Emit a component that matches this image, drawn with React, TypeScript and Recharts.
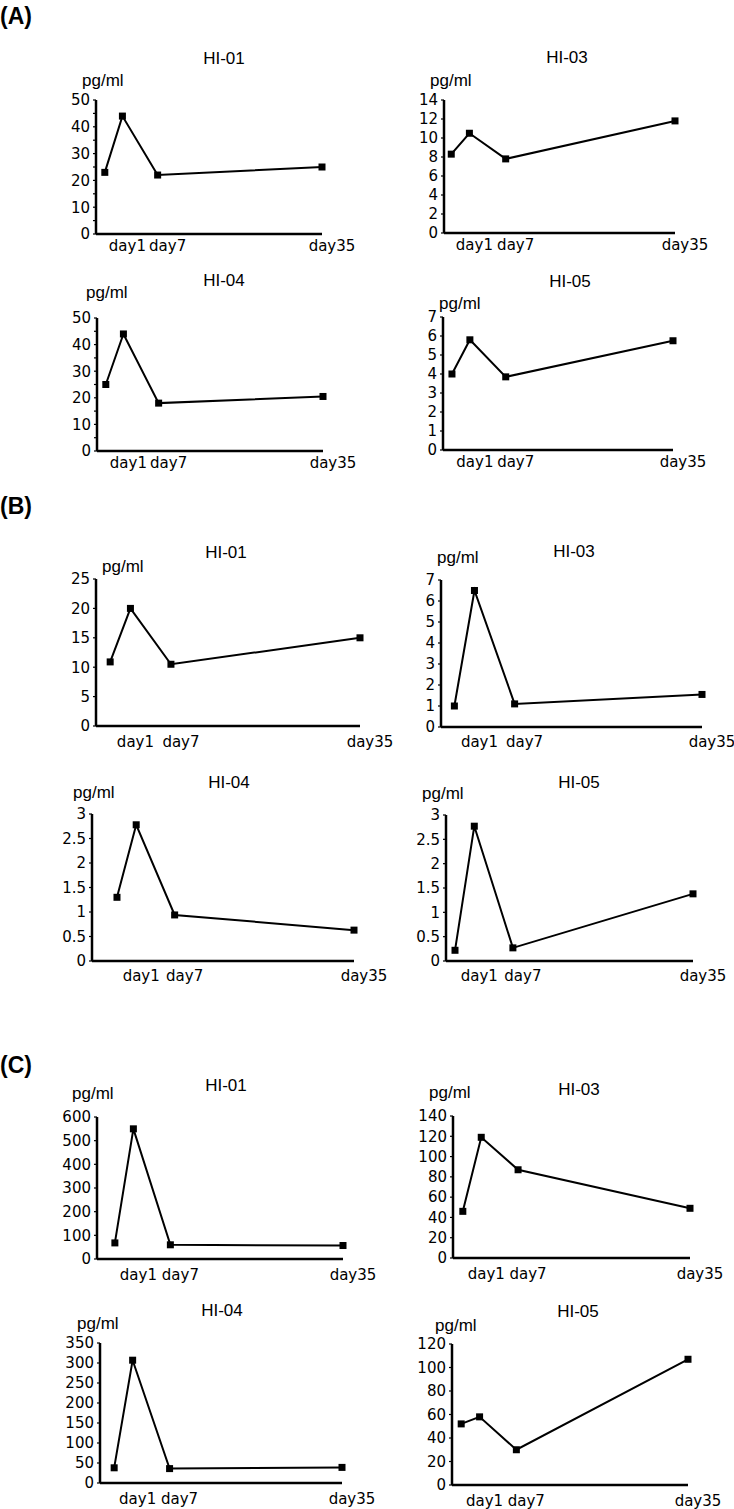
import React from 'react';
import { LineChart, Line, XAxis, YAxis } from 'recharts';

// sampling days (the unlabeled first point is the pre-dose sample)
const days = [-2, 1, 7, 35];
const dayTicks = [1, 7, 35];
const dayLabels = ['day1', 'day7', 'day35'];

// (A)
const a01 = [23, 44, 22, 25];
const a03 = [8.3, 10.5, 7.8, 11.8];
const a04 = [25, 44, 18, 20.5];
const a05 = [4.0, 5.8, 3.85, 5.75];
// (B)
const b01 = [10.9, 20, 10.5, 15];
const b03 = [1.0, 6.5, 1.1, 1.55];
const b04 = [1.3, 2.78, 0.94, 0.63];
const b05 = [0.22, 2.77, 0.27, 1.38];
// (C)
const c01 = [68, 550, 60, 57];
const c03 = [46, 119, 87, 49];
const c04 = [38, 307, 36, 39];
const c05 = [52, 58, 30, 107];

// y ticks
const ticks0to50by5 = [0, 5, 10, 15, 20, 25, 30, 35, 40, 45, 50];
const ticks0to14 = [0, 2, 4, 6, 8, 10, 12, 14];
const ticks0to7 = [0, 1, 2, 3, 4, 5, 6, 7];
const ticks0to25 = [0, 5, 10, 15, 20, 25];
const ticks0to3 = [0, 0.5, 1, 1.5, 2, 2.5, 3];
const ticks0to600 = [0, 100, 200, 300, 400, 500, 600];
const ticks0to140 = [0, 20, 40, 60, 80, 100, 120, 140];
const ticks0to350 = [0, 50, 100, 150, 200, 250, 300, 350];
const ticks0to120 = [0, 20, 40, 60, 80, 100, 120];

const sections = [
  { label: '(A)', y: 16 },
  { label: '(B)', y: 506 },
  { label: '(C)', y: 1065 },
];

// layout: plot box [x0, x1, y0, y1], title centre, unit label anchor
const panels = [
  { title: 'HI-01', vals: a01, ticks: ticks0to50by5, labelStep: 10, xMin: -3.5, box: [96, 322, 100, 234], tc: [224, 58], uc: [82, 80], gap: 17 },
  { title: 'HI-03', vals: a03, ticks: ticks0to14, labelStep: 0, xMin: -3.2, box: [444, 675, 100, 233], tc: [567, 57], uc: [430, 80], gap: 17 },
  { title: 'HI-04', vals: a04, ticks: ticks0to50by5, labelStep: 10, xMin: -3.5, box: [97, 323, 318, 451], tc: [224, 280], uc: [86, 292], gap: 17 },
  { title: 'HI-05', vals: a05, ticks: ticks0to7, labelStep: 0, xMin: -3.5, box: [443, 673, 317, 450], tc: [570, 281], uc: [439, 303], gap: 17 },
  { title: 'HI-01', vals: b01, ticks: ticks0to25, labelStep: 0, xMin: -4.1, box: [96, 360, 579, 726], tc: [226, 552], uc: [102, 566], gap: 21 },
  { title: 'HI-03', vals: b03, ticks: ticks0to7, labelStep: 0, xMin: -4, box: [441, 702, 580, 727], tc: [574, 551], uc: [437, 557], gap: 20 },
  { title: 'HI-04', vals: b04, ticks: ticks0to3, labelStep: 0, xMin: -5.9, box: [92, 354, 814, 961], tc: [229, 782], uc: [73, 792], gap: 20 },
  { title: 'HI-05', vals: b05, ticks: ticks0to3, labelStep: 0, xMin: -3.4, box: [446, 693, 815, 961], tc: [579, 782], uc: [422, 793], gap: 20 },
  { title: 'HI-01', vals: c01, ticks: ticks0to600, labelStep: 0, xMin: -4.9, box: [97, 343, 1117, 1259], tc: [226, 1085], uc: [72, 1093], gap: 21 },
  { title: 'HI-03', vals: c03, ticks: ticks0to140, labelStep: 0, xMin: -3.6, box: [453, 690, 1116, 1258], tc: [579, 1089], uc: [429, 1092], gap: 21 },
  { title: 'HI-04', vals: c04, ticks: ticks0to350, labelStep: 0, xMin: -4.3, box: [100, 342, 1343, 1483], tc: [222, 1310], uc: [77, 1323], gap: 21 },
  { title: 'HI-05', vals: c05, ticks: ticks0to120, labelStep: 0, xMin: -3.5, box: [452, 688, 1344, 1485], tc: [578, 1311], uc: [435, 1325], gap: 21 },
];

const labelShift = [5, 10, 10];
const numFont = '"DejaVu Sans", sans-serif';
const textFont = '"Liberation Sans", Arial, sans-serif';

const Square = (props: any) => {
  const { cx, cy } = props;
  if (cx == null || cy == null) return null;
  return <rect x={cx - 3.5} y={cy - 3.5} width={7} height={7} fill="#000" />;
};

const YW = 50;
const MT = 10;
const MR = 44;
const XH = 30;

function Panel({ p }: { p: (typeof panels)[number] }) {
  const [x0, x1, y0, y1] = p.box;
  const plotW = x1 - x0;
  const plotH = y1 - y0;
  const data = days.map((d, i) => ({ day: d, v: p.vals[i] }));
  const top = p.ticks[p.ticks.length - 1];

  const XTick = (props: any) => {
    const { x, y, payload } = props;
    const idx = dayTicks.indexOf(payload.value);
    return (
      <text
        x={x + labelShift[idx]}
        y={y + p.gap}
        textAnchor="middle"
        fill="#000"
        fontSize={15}
        fontFamily={numFont}
      >
        {dayLabels[idx]}
      </text>
    );
  };

  return (
    <>
      <div
        style={{
          position: 'absolute',
          left: p.tc[0],
          top: p.tc[1],
          transform: 'translate(-50%, -50%)',
          fontFamily: textFont,
          fontSize: 17,
          lineHeight: 1,
          whiteSpace: 'nowrap',
        }}
      >
        {p.title}
      </div>
      <div
        style={{
          position: 'absolute',
          left: p.uc[0],
          top: p.uc[1],
          transform: 'translateY(-50%)',
          fontFamily: textFont,
          fontSize: 17,
          lineHeight: 1,
          whiteSpace: 'nowrap',
        }}
      >
        pg/ml
      </div>
      <div style={{ position: 'absolute', left: x0 - YW, top: y0 - MT }}>
        <LineChart
          width={YW + plotW + MR}
          height={MT + plotH + XH}
          data={data}
          margin={{ top: MT, right: MR, left: 0, bottom: 0 }}
          style={{ overflow: 'visible' }}
        >
          <XAxis
            dataKey="day"
            type="number"
            domain={[p.xMin, 35]}
            ticks={dayTicks}
            interval={0}
            height={XH}
            tickLine={false}
            tickSize={0}
            tickMargin={0}
            axisLine={{ stroke: '#000', strokeWidth: 2.5 }}
            tick={<XTick />}
          />
          <YAxis
            type="number"
            domain={[0, top]}
            ticks={p.ticks}
            interval={0}
            width={YW}
            tickSize={3}
            tickMargin={3}
            tickLine={{ stroke: '#000', strokeWidth: 1.2 }}
            axisLine={{ stroke: '#000', strokeWidth: 2.5 }}
            tick={{ fill: '#000', fontSize: 15, fontFamily: numFont }}
            tickFormatter={(v: number) => (p.labelStep && v % p.labelStep !== 0 ? '' : String(v))}
          />
          <Line
            type="linear"
            dataKey="v"
            stroke="#000"
            strokeWidth={2}
            dot={<Square />}
            activeDot={false}
            isAnimationActive={false}
          />
        </LineChart>
      </div>
    </>
  );
}

export default function App() {
  return (
    <div
      style={{
        position: 'absolute',
        left: 0,
        top: 0,
        width: 734,
        height: 1509,
        background: '#fff',
        overflow: 'hidden',
      }}
    >
      {sections.map((s) => (
        <div
          key={s.label}
          style={{
            position: 'absolute',
            left: 0,
            top: s.y,
            transform: 'translateY(-50%)',
            fontFamily: textFont,
            fontWeight: 'bold',
            fontSize: 23,
            lineHeight: 1,
          }}
        >
          {s.label}
        </div>
      ))}
      {panels.map((p, i) => (
        <Panel key={i} p={p} />
      ))}
    </div>
  );
}
